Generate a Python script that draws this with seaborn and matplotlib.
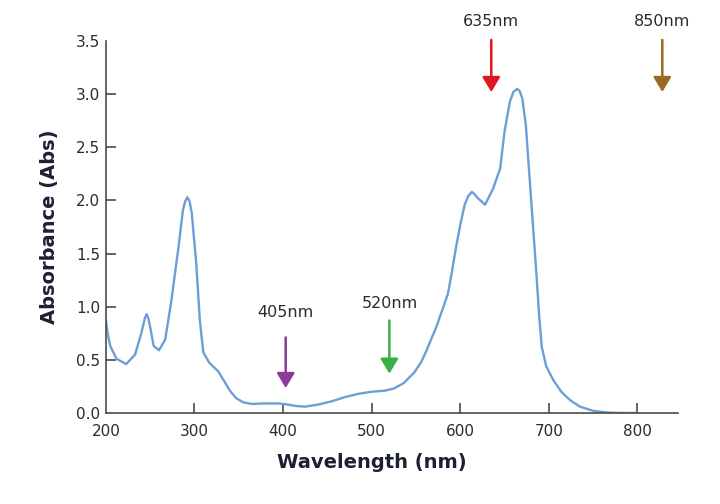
import matplotlib
matplotlib.use("Agg")
import matplotlib.pyplot as plt
import seaborn as sns

# absorbance spectrum
wavelength = [200, 202, 205, 212, 223, 233, 240, 244, 246, 248, 250, 254, 260, 267,
              274, 282, 287, 289.5, 292, 294.5, 297, 302, 306, 310, 317, 327, 335,
              340, 347, 355, 365, 380, 395, 405, 415, 425, 440, 455, 470, 485, 500,
              515, 525, 536, 548, 556, 562, 573, 581, 586, 590, 595, 600, 605, 609,
              613, 616, 620, 628, 637, 645, 650, 656, 660, 664, 667, 670, 674, 678,
              682, 686, 689, 692, 697, 705, 714, 724, 735, 750, 765, 780, 800]
absorbance = [0.88, 0.75, 0.63, 0.51, 0.46, 0.55, 0.75, 0.89, 0.93, 0.89, 0.81, 0.63,
              0.59, 0.69, 1.06, 1.56, 1.91, 1.99, 2.03, 1.99, 1.88, 1.41, 0.88, 0.57,
              0.47, 0.39, 0.28, 0.21, 0.14, 0.10, 0.085, 0.09, 0.09, 0.08, 0.065, 0.06,
              0.08, 0.11, 0.15, 0.18, 0.20, 0.21, 0.23, 0.28, 0.38, 0.48, 0.59, 0.81,
              1.00, 1.12, 1.30, 1.55, 1.77, 1.96, 2.04, 2.08, 2.06, 2.02, 1.96, 2.11,
              2.30, 2.65, 2.93, 3.02, 3.05, 3.03, 2.96, 2.71, 2.24, 1.77, 1.30, 0.92,
              0.62, 0.44, 0.31, 0.20, 0.12, 0.06, 0.02, 0.005, 0.0, 0.0]

# marker arrows: label, x position, arrow tail, arrow tip, label height
marker_labels = ["405nm", "520nm", "635nm", "850nm"]
marker_x = [403, 520, 635, 828]
marker_tail = [0.71, 0.87, 3.51, 3.51]
marker_tip = [0.235, 0.37, 3.02, 3.02]
marker_text_y = [0.95, 1.03, 3.68, 3.68]
marker_colors = ["#8b3a9a", "#3aae49", "#e3141f", "#9b6a20"]

sns.set_theme(style="white")
plt.rcParams["font.family"] = ["DejaVu Sans"]

fig = plt.figure(figsize=(7.2, 5.04), dpi=100)
ax = fig.add_axes([0.147, 0.1806, 0.795, 0.7381])

sns.lineplot(x=wavelength, y=absorbance, ax=ax, color="#6c9fd6", linewidth=1.7)

for lab, mx, t0, t1, ty, c in zip(marker_labels, marker_x, marker_tail, marker_tip,
                                  marker_text_y, marker_colors):
    ax.annotate("", xy=(mx, t1), xytext=(mx, t0),
                arrowprops=dict(arrowstyle="-|>,head_width=0.3,head_length=0.5",
                                mutation_scale=18, color=c, lw=1.8,
                                shrinkA=0, shrinkB=0),
                annotation_clip=False)
    ax.text(mx, ty, lab, ha="center", va="center", fontsize=11.5,
            color="#2a2a35", clip_on=False)

ax.set_xlim(200, 846)
ax.set_ylim(0, 3.5)
ax.set_xticks([200, 300, 400, 500, 600, 700, 800])
ax.set_yticks([0.0, 0.5, 1.0, 1.5, 2.0, 2.5, 3.0, 3.5])
ax.set_yticklabels(["0.0", "0.5", "1.0", "1.5", "2.0", "2.5", "3.0", "3.5"])

sns.despine(ax=ax)
for side in ["left", "bottom"]:
    ax.spines[side].set_color("#4a4a4a")
    ax.spines[side].set_linewidth(1.2)

ax.tick_params(axis="both", direction="in", length=7, width=1.2, color="#4a4a4a",
               labelsize=11, labelcolor="#2a2a35", bottom=True, left=True)
ax.tick_params(axis="x", pad=8)
ax.tick_params(axis="y", pad=4)
# no tick marks at the axis ends in the original
ax.yaxis.get_major_ticks()[-1].tick1line.set_visible(False)
ax.yaxis.get_major_ticks()[0].tick1line.set_visible(False)
ax.xaxis.get_major_ticks()[0].tick1line.set_visible(False)

ax.set_xlabel("Wavelength (nm)", fontsize=14, fontweight="bold", color="#1c2033",
              labelpad=10, x=0.465)
ax.set_ylabel("Absorbance (Abs)", fontsize=14, fontweight="bold", color="#1c2033",
              labelpad=12)

fig.savefig("out.png", dpi=100, facecolor="white")
